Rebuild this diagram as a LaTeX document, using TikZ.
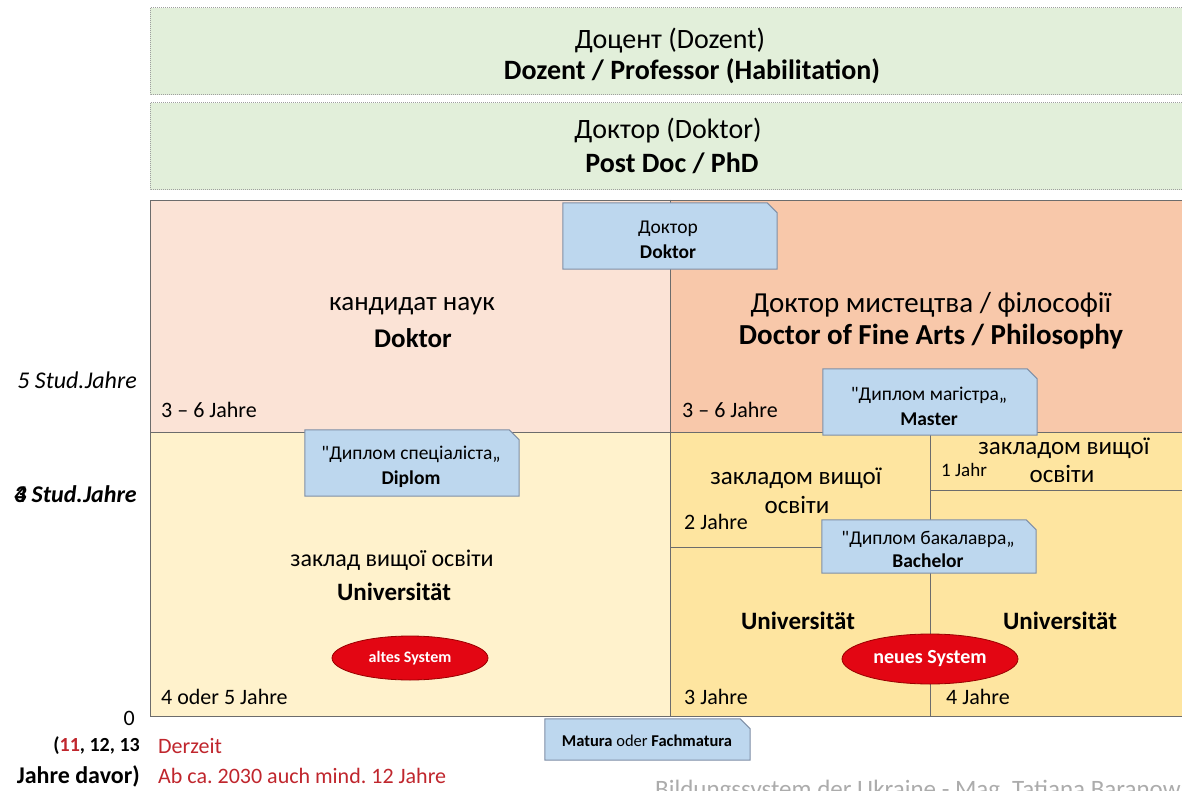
\documentclass[tikz,border=0pt]{standalone}
\usepackage{fontspec}
\setmainfont{Carlito}
\usetikzlibrary{shapes.geometric}
\frenchspacing
\definecolor{levelgreen}{HTML}{E2EFDA}
\definecolor{peachlight}{HTML}{FBE3D6}
\definecolor{peachdark}{HTML}{F8C8AA}
\definecolor{yellowlight}{HTML}{FFF2CC}
\definecolor{yellowdark}{HTML}{FEE5A0}
\definecolor{tabblue}{HTML}{BDD7EE}
\definecolor{tabframe}{HTML}{7F8FA6}
\definecolor{sysred}{HTML}{E30613}
\definecolor{notered}{HTML}{C0262D}
\tikzset{
  lvl/.style={font=\fontsize{28}{32}\selectfont, inner sep=0pt},
  lvlbold/.style={font=\bfseries\fontsize{28}{32}\selectfont, inner sep=0pt},
  inst/.style={font=\fontsize{25}{29}\selectfont, inner sep=0pt},
  instbold/.style={font=\bfseries\fontsize{25}{29}\selectfont, inner sep=0pt},
  yrs/.style={font=\fontsize{22}{26}\selectfont, anchor=west, inner sep=0pt},
  greenbox/.style={draw=gray!75, densely dotted, line width=1pt, fill=levelgreen},
  cell/.style={draw=gray!85!black, line width=0.9pt},
  tabbox/.style={inner sep=0pt},
  tabline/.style={draw=tabframe, line width=1pt, fill=tabblue},
  tabtext/.style={font=\fontsize{19.5}{25}\selectfont, align=center, inner sep=0pt},
  sysoval/.style={ellipse, draw=red!60!black, line width=0.8pt, fill=sysred,
    text=white, font=\bfseries\fontsize{20}{24}\selectfont, inner sep=0pt},
  axis/.style={font=\itshape\fontsize{24}{28}\selectfont, anchor=east, inner sep=0pt}
}
% blue tab with a snipped upper right corner
\newcommand\tabshape[1]{%
  \filldraw[tabline] (#1.south west) -- (#1.north west)
    -- ([xshift=-10pt]#1.north east) -- ([yshift=-10pt]#1.north east)
    -- (#1.south east) -- cycle;}
\newcommand\dq{\textquotedbl}
\begin{document}
\begin{tikzpicture}[x=1pt,y=-1pt]
  \useasboundingbox (0,0) rectangle (1182,791);
  \fill[white] (0,0) rectangle (1182,791);
  % upper levels
  \draw[greenbox] (150,8) rectangle (1200,95);
  \draw[greenbox] (150,103) rectangle (1200,190);
  \node[lvl] (dozentru) at (670,41) {Доцент (Dozent)};
  \node[lvlbold] (dozentde) at (692,71) {Dozent / Professor (Habilitation)};
  \node[lvl] (doktorru) at (668,131) {Доктор (Doktor)};
  \node[lvlbold] (doktorde) at (672,163) {Post Doc / PhD};
  % cells
  \fill[peachlight] (150,200) rectangle (670,432);
  \fill[peachdark] (670,200) rectangle (1190,432);
  \fill[yellowlight] (150,432) rectangle (670,716);
  \fill[yellowdark] (670,432) rectangle (1190,716);
  \draw[cell] (150,200) rectangle (1190,716);
  \draw[cell] (670,200) -- (670,716);
  \draw[cell] (150,432) -- (1190,432);
  \draw[cell] (930,432) -- (930,716);
  \draw[cell] (670,547) -- (930,547);
  \draw[cell] (930,490) -- (1190,490);
  % texts of the cells
  \node[lvl, font=\fontsize{27}{31}\selectfont] (kandidat) at (412,306) {кандидат наук};
  \node[lvlbold, font=\bfseries\fontsize{27}{31}\selectfont] (kandidatde) at (413,338) {Doktor};
  \node[lvl, font=\fontsize{29}{33}\selectfont] (mystectvo) at (931,305) {Доктор мистецтва / філософії};
  \node[lvlbold, font=\bfseries\fontsize{29}{33}\selectfont] (fineart) at (931,337) {Doctor of Fine Arts / Philosophy};
  \node[yrs] (drleft) at (161,410) {3 – 6 Jahre};
  \node[yrs] (drright) at (682,410) {3 – 6 Jahre};
  \node[inst] (zakladA) at (796,478) {закладом вищої};
  \node[inst] (osvitaA) at (797,505) {освіти};
  \node[yrs] (twoyrs) at (684,522) {2 Jahre};
  \node[inst] (zakladB) at (1064,448) {закладом вищої};
  \node[inst] (osvitaB) at (1062,474) {освіти};
  \node[yrs, font=\fontsize{19}{23}\selectfont] (oneyr) at (941,470) {1 Jahr};
  \node[inst, font=\fontsize{24}{28}\selectfont] (zakladold) at (392,560) {заклад вищої освіти};
  \node[instbold] (uniold) at (394,592) {Universität};
  \node[instbold] (uninewA) at (798,621) {Universität};
  \node[instbold] (uninewB) at (1060,621) {Universität};
  \node[yrs] (oldyrs) at (161,697) {4 oder 5 Jahre};
  \node[yrs] (threeyrs) at (684,697) {3 Jahre};
  \node[yrs] (fouryrs) at (946,697) {4 Jahre};
  % systems
  \node[sysoval, minimum width=156pt, minimum height=44pt, font=\bfseries\fontsize{16}{20}\selectfont] (altes) at (410,658) {altes System};
  \node[sysoval, minimum width=176pt, minimum height=50pt] (neues) at (930,659) {neues System};
  % degree tabs
  \node[tabbox, minimum width=214pt, minimum height=66pt] (tabdoktor) at (670,236) {};
  \tabshape{tabdoktor}
  \node[tabtext] (tabdoktortxt) at (668,240) {Доктор\\\textbf{Doktor}};
  \node[tabbox, minimum width=214pt, minimum height=66pt] (tabmaster) at (930,402) {};
  \tabshape{tabmaster}
  \node[tabtext] (tabmastertxt) at (929,406) {\dq Диплом магістра„\\\textbf{Master}};
  \node[tabbox, minimum width=214pt, minimum height=66pt] (tabdiplom) at (412,463) {};
  \tabshape{tabdiplom}
  \node[tabtext] (tabdiplomtxt) at (411,467) {\dq Диплом спеціаліста„\\\textbf{Diplom}};
  \node[tabbox, minimum width=214pt, minimum height=53pt] (tabbachelor) at (929,546.5) {};
  \tabshape{tabbachelor}
  \node[tabtext, font=\fontsize{19.5}{23}\selectfont] (tabbachelortxt) at (928,549) {\dq Диплом бакалавра„\\\textbf{Bachelor}};
  \node[tabbox, minimum width=205pt, minimum height=41pt] (tabmatura) at (647.5,739.5) {};
  \tabshape{tabmatura}
  \node[tabtext, font=\fontsize{16.5}{20}\selectfont] (tabmaturatxt) at (647,741) {\textbf{Matura} oder \textbf{Fachmatura}};
  % axis
  \node[axis] (fiveyrs) at (137,380) {5 Stud.Jahre};
  \node[axis, font=\bfseries\itshape\fontsize{24}{28}\selectfont] (fourstud) at (137,494) {\rlap{3}4 Stud.Jahre};
  \node[axis, font=\fontsize{22}{26}\selectfont] (zero) at (135,718) {0};
  \node[axis, font=\bfseries\fontsize{20}{24}\selectfont] (schoolA) at (140,746) {(\textcolor{notered}{11}, 12, 13};
  \node[axis, font=\bfseries\fontsize{24}{28}\selectfont] (schoolB) at (140,776) {Jahre davor)};
  \node[yrs, text=notered] (derzeit) at (158,746) {Derzeit};
  \node[yrs, text=notered] (ab2030) at (158,776) {Ab ca. 2030 auch mind. 12 Jahre};
  % footer
  \node[yrs, text=gray!65, font=\fontsize{25}{29}\selectfont] (footer) at (655,791) {Bildungssystem der Ukraine - Mag. Tatiana Baranowa};
\end{tikzpicture}
\end{document}
